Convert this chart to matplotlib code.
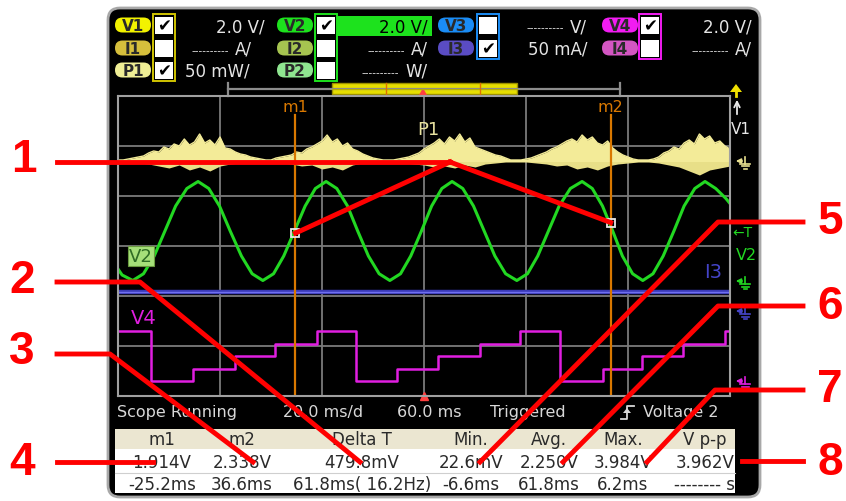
import matplotlib
matplotlib.use("Agg")
import matplotlib.pyplot as plt
from matplotlib.patches import FancyBboxPatch, Rectangle, Polygon
import numpy as np

plt.rcParams.update({
    "font.family": ["DejaVu Sans"],
    "axes.unicode_minus": False,
})

# ---- scope data (time in ms, -60..60 ms on screen, 20 ms/div) ----
v2_time_ms = [-60, -59.2, -57.1, -55.0, -52.9, -50.8, -48.7, -46.5, -44.3, -42.2,
              -40.1, -38.0, -35.8, -33.7, -31.6, -29.5, -27.5, -25.4, -23.3, -21.3,
              -19.2, -17.1, -15.0, -13.0, -10.9, -8.8, -6.7, -4.6, -2.6, -0.5,
              1.5, 3.5, 5.5, 7.6, 9.7, 11.8, 13.9, 16.0, 18.2, 20.3,
              22.3, 24.4, 26.5, 28.7, 31.0, 33.0, 35.0, 37.0, 38.9, 40.9,
              42.9, 44.9, 46.9, 49.0, 51.0, 53.1, 55.1, 57.2, 59.2, 60]
v2_volts = [0.48, 0.24, 0.02, 0.29, 1.0, 2.0, 3.0, 3.7, 3.98, 3.7,
            3.0, 2.0, 1.0, 0.29, 0.02, 0.29, 1.0, 2.0, 3.0, 3.7,
            3.98, 3.7, 3.0, 2.0, 1.0, 0.29, 0.02, 0.29, 1.0, 2.0,
            3.0, 3.7, 3.98, 3.7, 3.0, 2.0, 1.0, 0.29, 0.02, 0.29,
            1.0, 2.0, 3.0, 3.7, 3.98, 3.7, 3.0, 2.0, 1.0, 0.29,
            0.02, 0.29, 1.0, 2.0, 3.0, 3.7, 3.98, 3.7, 3.3, 3.1]

v4_time_ms = [-60, -53.5, -45.3, -37.1, -29.2, -21.0, -13.3, -5.3, 2.7, 11.0,
              18.8, 26.7, 35.1, 42.7, 50.8, 59.0, 60]
v4_volts = [2.0, 0.0, 0.5, 1.0, 1.5, 2.0, 0.0, 0.5, 1.0, 1.5,
            2.0, 0.0, 0.5, 1.0, 1.5, 2.0, 2.0]

i3_time_ms = [-60, 60]
i3_ma = [19, 19]

p1_time_ms = list(range(-60, 61))
p1_upper_mw = [1, 1, 2, 3, 4, 5, 8, 10, 9, 14,
               12, 17, 15, 22, 16, 19, 27, 18, 21, 16,
               24, 13, 12, 9, 7, 6, 4, 3, 2, 1,
               1, 3, 4, 5, 6, 9, 8, 12, 14, 17,
               20, 26, 19, 22, 15, 18, 12, 10, 7, 5,
               3, 2, 1, 1, 1, 2, 3, 4, 6, 8,
               12, 15, 18, 22, 17, 24, 20, 27, 19, 23,
               14, 12, 10, 8, 6, 5, 3, 1, 1, 1,
               2, 3, 5, 7, 9, 12, 14, 17, 20, 22,
               19, 26, 21, 24, 18, 16, 20, 13, 9, 6,
               4, 2, 1, 1, 1, 2, 4, 8, 10, 14,
               12, 18, 21, 17, 27, 22, 25, 18, 20, 15,
               12]
p1_lower_time_ms = list(range(-60, 61, 2))
p1_lower_mw = [-1, -1, -2, -3, -5, -7, -4, -9, -6, -10,
               -5, -3, -2, -1, -1, -1, -2, -3, -5, -4,
               -8, -6, -9, -4, -2, -1, -1, -1, -2, -3,
               -4, -6, -5, -7, -4, -6, -3, -2, -1, -1,
               -1, -2, -3, -5, -4, -8, -6, -9, -5, -3,
               -2, -1, -1, -2, -4, -6, -10, -14, -9, -7,
               -5]

marker_names = ["m1", "m2"]
marker_time_ms = [-25.2, 36.6]
marker_v2 = [1.914, 2.338]

# channel ground position (divisions from bottom) and scale per division
GND = {"P1": 4.7, "V2": 2.3, "I3": 1.7, "V4": 0.3}
PER_DIV = {"P1": 50.0, "V2": 2.0, "I3": 50.0, "V4": 2.0}

meas_headers = ["m1", "m2", "Delta T", "Min.", "Avg.", "Max.", "V p-p"]
meas_values = ["1.914V", "2.338V", "479.8mV", "22.6mV", "2.250V", "3.984V", "3.962V"]
meas_times = ["-25.2ms", "36.6ms", "61.8ms( 16.2Hz)", "-6.6ms", "61.8ms", "6.2ms", "-------- s"]
meas_col_x = [162, 242, 362, 471, 549, 623, 705]

status_items = [("Scope Running", 117), ("20.0 ms/d", 283), ("60.0 ms", 397),
                ("Triggered", 490), ("Voltage 2", 643)]

header_rows_y = [26, 49, 71]
header = [
    # label, badge color, column, row, checked, scale text, text right x
    ("V1", "#f2f200", 0, 0, True, "2.0 V/", 265),
    ("I1", "#d6bf3c", 0, 1, False, "A/", 252),
    ("P1", "#efee95", 0, 2, True, "50 mW/", 250),
    ("V2", "#1de21d", 1, 0, True, "2.0 V/", 428),
    ("I2", "#a6c450", 1, 1, False, "A/", 428),
    ("P2", "#8fe690", 1, 2, False, "W/", 428),
    ("V3", "#1a8cf5", 2, 0, False, "V/", 587),
    ("I3", "#5a4cc4", 2, 1, True, "50 mA/", 587),
    ("V4", "#f21cf2", 3, 0, True, "2.0 V/", 752),
    ("I4", "#d356c2", 3, 1, False, "A/", 752),
]
badge_cx = [133, 295, 456, 620]
check_cx = [164, 326, 488, 650]
group_colors = ["#d0c400", "#1de21d", "#1a8cf5", "#f21cf2"]
group_rows = [3, 3, 2, 2]

fig = plt.figure(figsize=(8.46, 5.02), dpi=100)
fig.patch.set_facecolor("white")

bg = fig.add_axes([0, 0, 1, 1])
bg.set_xlim(0, 846)
bg.set_ylim(502, 0)
bg.axis("off")

# screen
bg.add_patch(FancyBboxPatch((108, 9), 652, 489, boxstyle="round,pad=0,rounding_size=12",
                            fc="black", ec="#a8a8a8", lw=2))

# header badges / checkboxes / scale texts
for c in range(4):
    h = 67 if group_rows[c] == 3 else 45
    bg.add_patch(Rectangle((check_cx[c] - 11, 15), 22, h, fill=False,
                           ec=group_colors[c], lw=1.4))
bg.add_patch(Rectangle((337, 17), 95, 20, fc="#1de21d", ec="none"))
for lab, col, c, r, chk, txt, tx in header:
    y = header_rows_y[r]
    bg.add_patch(FancyBboxPatch((badge_cx[c] - 18, y - 7.5), 36, 15,
                                boxstyle="round,pad=0,rounding_size=7.5",
                                fc=col, ec="none"))
    bg.text(badge_cx[c], y + 0.5, lab, ha="center", va="center", fontsize=11,
            fontweight="bold", color="#2a2a2a")
    bg.add_patch(Rectangle((check_cx[c] - 9, y - 8.5), 18, 17, fc="white", ec="none"))
    if chk:
        bg.text(check_cx[c], y + 0.5, "\u2714", ha="center", va="center",
                fontsize=12, color="black")
    tcol = "black" if lab == "V2" else "#e4e4e4"
    bg.text(tx, y + 1, txt, ha="right", va="center", fontsize=12, color=tcol)
    if len(txt) == 2:
        # unset scale: small dashes before the unit
        dash_end = tx - (29 if txt == "W/" else 23)
        bg.text(dash_end, y + 2, "----------", ha="right", va="center",
                fontsize=7.5, color=tcol)

# timeline bar
bg.plot([228, 620], [90, 90], color="#8c8c8c", lw=1.6)
for xx in (228, 620):
    bg.plot([xx, xx], [84, 97], color="#8c8c8c", lw=1.6)
bg.add_patch(Rectangle((332, 84), 185, 11, fc="#e6de00", ec="#9c9000", lw=1))
bg.plot([332, 517], [89.5, 89.5], color="#b8b000", lw=0.8)
for xx in (386, 480):
    bg.plot([xx, xx], [84, 95], color="#e07000", lw=1)
bg.add_patch(Polygon([[419, 96], [427, 96], [423, 89]], closed=True, fc="#ff4040", ec="none"))

# status line
for txt, x in status_items:
    bg.text(x, 413, txt, ha="left", va="center", fontsize=11.5, color="#d8d8d8")
bg.plot([621, 627, 627, 634], [420, 420, 407, 407], color="#d8d8d8", lw=1.3)
bg.add_patch(Polygon([[623, 414], [631, 414], [627, 409]], closed=True, fc="#d8d8d8", ec="none"))

# measurement table
bg.add_patch(Rectangle((115, 430), 620, 20, fc="#ebe6d1", ec="none"))
bg.add_patch(Rectangle((115, 450), 620, 44, fc="white", ec="none"))
bg.plot([115, 735], [474, 474], color="#cfcfcf", lw=0.8)
for i in range(len(meas_headers)):
    bg.text(meas_col_x[i], 440, meas_headers[i], ha="center", va="center",
            fontsize=12, color="#2a2a2a")
    bg.text(meas_col_x[i], 463, meas_values[i], ha="center", va="center",
            fontsize=12, color="#2a2a2a")
    bg.text(meas_col_x[i], 485, meas_times[i], ha="center", va="center",
            fontsize=12, color="#2a2a2a")

# ---- scope graticule ----
sc = fig.add_axes([118 / 846, (502 - 397) / 502, 612 / 846, 300 / 502])
sc.set_facecolor("none")
sc.set_xlim(-60, 60)
sc.set_ylim(0, 6)
sc.set_xticks([-40, -20, 0, 20, 40])
sc.set_yticks([1, 2, 3, 4, 5])
sc.tick_params(length=0, labelbottom=False, labelleft=False)
sc.grid(True, color="#7a7a7a", lw=1.3)
sc.set_axisbelow(True)
for s in sc.spines.values():
    s.set_color("#a0a0a0")
    s.set_linewidth(1.5)


def to_div(vals, ch):
    return GND[ch] + np.asarray(vals, dtype=float) / PER_DIV[ch]


# P1 power bursts
sc.fill_between(p1_time_ms, GND["P1"], to_div(p1_upper_mw, "P1"), color="#f3eb98", lw=0)
sc.plot(p1_time_ms, to_div(p1_upper_mw, "P1"), color="#f3eb98", lw=1)
sc.fill_between(p1_lower_time_ms, to_div(p1_lower_mw, "P1"), GND["P1"], color="#e8df88", lw=0)
sc.axhline(GND["P1"], color="#f3eb98", lw=1.5)
sc.text(0.8, 5.34, "P1", ha="center", va="center", fontsize=13, color="#e8e2a0")

# V2 sine
sc.plot(v2_time_ms, to_div(v2_volts, "V2"), color="#22d822", lw=2.2, solid_joinstyle="round")

# I3 current
sc.plot(i3_time_ms, to_div(i3_ma, "I3"), color="#3a3ab8", lw=3.2)
sc.plot(i3_time_ms, to_div(i3_ma, "I3"), color="#7070f0", lw=1)

# V4 staircase
sc.plot(v4_time_ms, to_div(v4_volts, "V4"), color="#e01ee0", lw=1.8, drawstyle="steps-post")
sc.text(-57.5, 1.57, "V4", ha="left", va="center", fontsize=14, color="#e01ee0")

# markers m1/m2
for name, t, v in zip(marker_names, marker_time_ms, marker_v2):
    sc.plot([t, t], [0, 5.63], color="#d97800", lw=1.6)
    sc.text(t, 5.78, name, ha="center", va="center", fontsize=11.5, color="#d97800")
    sc.plot([t], to_div([v], "V2"), marker="s", ms=6, mfc="none", mec="#e8e8e8", mew=1.3)

# V2 label box
sc.text(-55.5, 2.8, "V2", ha="center", va="center", fontsize=13, color="#2f6d24",
        bbox=dict(boxstyle="square,pad=0.05", fc="#a6e07a", ec="#6a9a40", lw=0.8))
sc.text(56.7, 2.48, "I3", ha="center", va="center", fontsize=14, color="#4444c8")
sc.plot([0], [0], marker="^", ms=6, color="#ff4040", clip_on=False)

# ---- overlay in pixel space ----
ov = fig.add_axes([0, 0, 1, 1])
ov.set_xlim(0, 846)
ov.set_ylim(502, 0)
ov.axis("off")
ov.set_facecolor("none")


def scope_px(t, d):
    return ov.transData.inverted().transform(sc.transData.transform((t, d)))


def ground_mark(ch, color):
    _, y = scope_px(60, GND[ch])
    ov.annotate("", xy=(733, y), xytext=(745, y),
                arrowprops=dict(arrowstyle="-|>", color=color, lw=1.2, mutation_scale=7))
    ov.plot([745, 745], [y - 4, y + 3], color=color, lw=1.2)
    for w, dy in ((5, 3), (3.5, 5.5), (1.5, 8)):
        ov.plot([745 - w, 745 + w], [y + dy, y + dy], color=color, lw=1.2)


ground_mark("P1", "#e8e090")
ground_mark("V2", "#22d822")
ground_mark("I3", "#4444c8")
ground_mark("V4", "#e01ee0")

# V1 off-screen arrow & trigger marks
ov.add_patch(Polygon([[730, 93], [742, 93], [736, 85]], closed=True, fc="#f0e000", ec="none"))
ov.plot([736, 736], [90, 97], color="#f0e000", lw=2)
ov.annotate("", xy=(737, 98), xytext=(737, 118),
            arrowprops=dict(arrowstyle="->", color="#e8e8e8", lw=1.3))
ov.text(741, 130, "V1", ha="center", va="center", fontsize=11, color="#e8e8e8")
ov.text(742, 233, "\u2190T", ha="center", va="center", fontsize=10, color="#22d822")
ov.text(746, 256, "V2", ha="center", va="center", fontsize=11.5, color="#22d822")

# red callouts
RED = "#ff0000"
LW = 3.5
m1_px = scope_px(marker_time_ms[0], to_div([marker_v2[0]], "V2")[0])
m2_px = scope_px(marker_time_ms[1], to_div([marker_v2[1]], "V2")[0])
hub = (450, 163)
ov.plot([57, hub[0]], [hub[1], hub[1]], color=RED, lw=LW)
ov.plot([hub[0], m1_px[0]], [hub[1], m1_px[1]], color=RED, lw=LW)
ov.plot([hub[0], m2_px[0]], [hub[1], m2_px[1]], color=RED, lw=LW)
ov.plot([57, 140, 360], [283, 283, 463], color=RED, lw=LW)
ov.plot([57, 110, 253], [355, 355, 463], color=RED, lw=LW)
ov.plot([57, 153], [463, 463], color=RED, lw=LW)
ov.plot([803, 718, 480], [223, 223, 463], color=RED, lw=LW)
ov.plot([803, 718, 563], [307, 307, 463], color=RED, lw=LW)
ov.plot([803, 715, 647], [391, 391, 463], color=RED, lw=LW)
ov.plot([742, 803], [462, 462], color=RED, lw=LW)

callouts = [("1", 24, 160), ("2", 22, 281), ("3", 22, 352), ("4", 22, 463),
            ("5", 830, 222), ("6", 830, 307), ("7", 830, 390), ("8", 830, 463)]
for num, x, y in callouts:
    ov.text(x, y, num, ha="center", va="center", fontsize=33, fontweight="bold",
            color=RED, family=["Liberation Sans", "DejaVu Sans"])

fig.savefig("out.png", dpi=100)
